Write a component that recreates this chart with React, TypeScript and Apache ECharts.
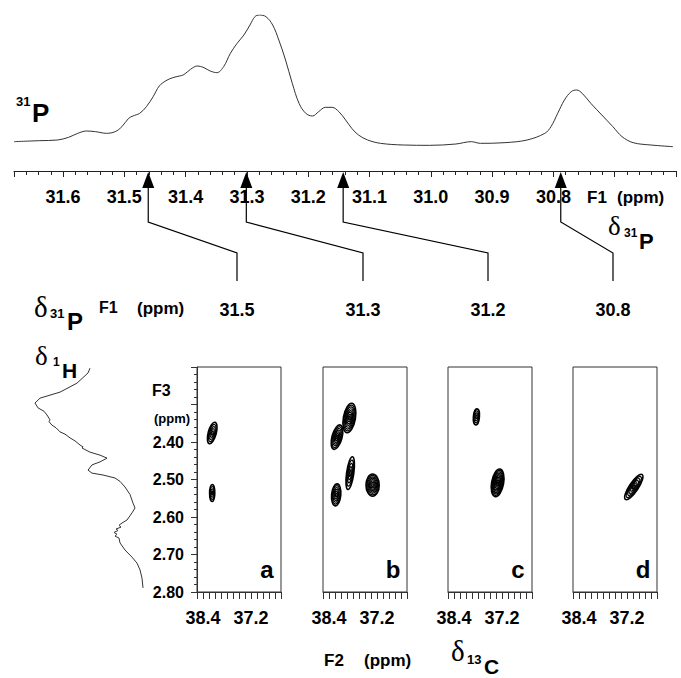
import React, { useEffect, useRef } from "react";
import * as echarts from "echarts";

// ---------- 31P 1D spectrum (F1 axis, ppm) ----------
const p31Ppm = [31.68, 31.638, 31.609, 31.591, 31.576, 31.562, 31.547, 31.529, 31.515, 31.504, 31.493, 31.486, 31.475, 31.464, 31.453, 31.443, 31.432, 31.421, 31.41, 31.403, 31.392, 31.381, 31.37, 31.36, 31.349, 31.338, 31.327, 31.316, 31.305, 31.295, 31.287, 31.28, 31.269, 31.258, 31.248, 31.237, 31.226, 31.215, 31.204, 31.193, 31.183, 31.172, 31.161, 31.15, 31.139, 31.129, 31.118, 31.103, 31.082, 31.045, 31.002, 30.959, 30.934, 30.919, 30.879, 30.843, 30.814, 30.804, 30.793, 30.782, 30.771, 30.762, 30.753, 30.739, 30.721, 30.703, 30.688, 30.67, 30.641, 30.605];
const p31Int = [20, 23, 25, 33, 45, 52, 50, 45, 50, 65, 90, 97, 105, 125, 155, 187, 203, 212, 217, 221, 237, 247, 242, 232, 227, 245, 285, 315, 340, 370, 395, 400, 395, 370, 325, 265, 195, 135, 105, 97, 110, 123, 123, 110, 85, 60, 40, 25, 15, 10, 9, 13, 20, 15, 17, 25, 45, 65, 105, 145, 170, 175, 165, 135, 100, 65, 35, 17, 10, 5];
const F1_MIN = 30.6;
const F1_MAX = 31.68;
const INT_MIN = -68;
const INT_MAX = 400;

// arrows marking the 31P shifts of the four slices
const arrowPpm = [31.461, 31.301, 31.143, 30.788];
const sliceF1Labels = ["31.5", "31.3", "31.2", "30.8"];
const panelLetters = ["a", "b", "c", "d"];

// ---------- 1H projection (F3, ppm) ----------
const h1Int = [70, 68, 57, 40, 20, 15, 18, 24, 27, 30, 29, 32, 36, 40, 45, 50, 55, 60, 63, 62, 70, 80, 87, 80, 72, 68, 72, 83, 95, 100, 105, 110, 113, 115, 112, 107, 102, 99, 101, 96, 98, 94, 97, 95, 99, 100, 105, 112, 117, 120, 122, 123];
const h1Ppm = [2.203, 2.216, 2.243, 2.267, 2.283, 2.296, 2.309, 2.318, 2.328, 2.341, 2.346, 2.355, 2.362, 2.373, 2.379, 2.389, 2.397, 2.408, 2.413, 2.416, 2.427, 2.435, 2.443, 2.453, 2.461, 2.475, 2.483, 2.488, 2.496, 2.505, 2.52, 2.54, 2.563, 2.576, 2.589, 2.608, 2.616, 2.622, 2.627, 2.632, 2.636, 2.641, 2.646, 2.651, 2.656, 2.669, 2.688, 2.707, 2.723, 2.741, 2.763, 2.789];
const F3_MIN = 2.2;
const F3_MAX = 2.8;

// ---------- 2D cross peaks: [F2 ppm, F3 ppm, width F2, width F3, tilt deg, contour levels] ----------
const peaksA = [
  [38.17, 2.376, 0.2, 0.059, 15, 5],
  [38.17, 2.536, 0.13, 0.045, 0, 4],
];
const peaksB = [
  [37.89, 2.336, 0.3, 0.08, 10, 8],
  [38.2, 2.387, 0.25, 0.067, 15, 7],
  [37.87, 2.483, 0.18, 0.088, 8, 5],
  [37.31, 2.515, 0.33, 0.059, 0, 8],
  [38.22, 2.541, 0.23, 0.059, 5, 6],
];
const peaksC = [
  [37.84, 2.333, 0.15, 0.043, 5, 4],
  [37.31, 2.509, 0.3, 0.075, 10, 10],
];
const peaksD = [[37.03, 2.52, 0.22, 0.08, 34, 6]];
const panelPeaks = [peaksA, peaksB, peaksC, peaksD];
const F2_MIN = 36.45;
const F2_MAX = 38.55;
const f2Labels = [38.4, 37.2];

// ---------- layout ----------
const panelLefts = [197, 323, 448, 573];
const PANEL_W = 84;
const PANEL_TOP = 367;
const PANEL_H = 225;

const SANS = '"Liberation Sans", Arial, Helvetica, sans-serif';
const SERIF = '"Liberation Serif", "DejaVu Serif", serif';

function txt(text: string, x: number, y: number, size: number, opts: any = {}) {
  const align = opts.align || "left";
  const family = opts.serif ? SERIF : SANS;
  const weight = opts.serif ? "normal" : "bold";
  return {
    type: "text",
    x,
    y,
    silent: true,
    style: {
      text,
      fill: "#000",
      font: `${weight} ${size}px ${family}`,
      align,
      verticalAlign: "middle",
      textAlign: align,
      textVerticalAlign: "middle",
    },
  };
}

export default function App() {
  const ref = useRef<HTMLDivElement>(null);

  useEffect(() => {
    if (!ref.current) return;
    const chart = echarts.init(ref.current, undefined, { renderer: "svg" });

    const axisColor = "#222";
    const grids: any[] = [
      { left: 14, top: 15, width: 662, height: 156, outerBoundsMode: "none" },
      { left: 20, top: PANEL_TOP, width: 130, height: PANEL_H, outerBoundsMode: "none" },
      ...panelLefts.map((l) => ({
        left: l,
        top: PANEL_TOP,
        width: PANEL_W,
        height: PANEL_H,
        show: true,
        borderColor: "#333",
        borderWidth: 1,
        backgroundColor: "transparent",
        outerBoundsMode: "none",
      })),
    ];

    const isTenth = (v: number) => Math.abs(v * 10 - Math.round(v * 10)) < 1e-6;

    const xAxes: any[] = [
      {
        type: "value",
        gridIndex: 0,
        min: F1_MIN,
        max: F1_MAX,
        inverse: true,
        interval: 0.1,
        axisLine: { show: true, onZero: false, lineStyle: { color: axisColor, width: 1 } },
        axisTick: { show: true, length: 6, lineStyle: { color: axisColor } },
        minorTick: { show: true, splitNumber: 5, length: 4, lineStyle: { color: axisColor } },
        splitLine: { show: false },
        minorSplitLine: { show: false },
        axisLabel: {
          margin: 17,
          color: "#000",
          fontSize: 18,
          fontWeight: "bold",
          fontFamily: SANS,
          formatter: (v: number) => (v >= 30.75 && v <= 31.65 && isTenth(v) ? v.toFixed(1) : ""),
        },
      },
      { type: "value", gridIndex: 1, min: 0, max: 130, show: false },
      ...panelLefts.map((_, i) => ({
        type: "value",
        gridIndex: i + 2,
        min: F2_MIN,
        max: F2_MAX,
        inverse: true,
        interval: 0.15,
        axisLine: { show: true, onZero: false, lineStyle: { color: "#333" } },
        axisTick: { show: true, length: 7, lineStyle: { color: "#333" } },
        splitLine: { show: false },
        axisLabel: {
          margin: 17,
          color: "#000",
          fontSize: 18,
          fontWeight: "bold",
          fontFamily: SANS,
          formatter: (v: number) =>
            f2Labels.some((t) => Math.abs(v - t) < 1e-6) ? v.toFixed(1) : "",
        },
      })),
    ];

    const yAxes: any[] = [
      { type: "value", gridIndex: 0, min: INT_MIN, max: INT_MAX, show: false },
      { type: "value", gridIndex: 1, min: F3_MIN, max: F3_MAX, inverse: true, show: false },
      {
        type: "value",
        gridIndex: 2,
        min: F3_MIN,
        max: F3_MAX,
        inverse: true,
        interval: 0.1,
        axisLine: { show: true, onZero: false, lineStyle: { color: "#333" } },
        axisTick: { show: true, length: 6, lineStyle: { color: "#333" } },
        minorTick: { show: true, splitNumber: 5, length: 3, lineStyle: { color: "#333" } },
        splitLine: { show: false },
        minorSplitLine: { show: false },
        axisLabel: {
          margin: 13,
          color: "#000",
          fontSize: 16,
          fontWeight: "bold",
          fontFamily: SANS,
          formatter: (v: number) => (v > 2.35 ? v.toFixed(2) : ""),
        },
      },
      ...[3, 4, 5].map((g) => ({
        type: "value",
        gridIndex: g,
        min: F3_MIN,
        max: F3_MAX,
        inverse: true,
        show: false,
      })),
    ];

    const peakSeries = panelPeaks.map((peaks, i) => ({
      type: "custom",
      xAxisIndex: i + 2,
      yAxisIndex: i + 2,
      clip: true,
      silent: true,
      data: peaks,
      renderItem: (params: any, api: any) => {
        const c = api.coord([api.value(0), api.value(1)]);
        const s = api.size([api.value(2), api.value(3)]);
        const rot = (-api.value(4) * Math.PI) / 180;
        const levels = api.value(5);
        const children: any[] = [];
        for (let k = levels; k >= 1; k--) {
          const f = k / levels;
          children.push({
            type: "ellipse",
            x: c[0],
            y: c[1],
            rotation: rot,
            shape: { cx: 0, cy: 0, rx: (Math.abs(s[0]) / 2) * f, ry: (Math.abs(s[1]) / 2) * f },
            style: { fill: "none", stroke: "#000", lineWidth: k === levels ? 1.6 : 1.2 },
          });
        }
        return { type: "group", children };
      },
    }));

    const arrowSeries = {
      type: "custom",
      xAxisIndex: 0,
      yAxisIndex: 0,
      clip: false,
      silent: true,
      data: arrowPpm.map((p) => [p, INT_MIN]),
      renderItem: (params: any, api: any) => {
        const i = params.dataIndex;
        const p = api.coord([api.value(0), api.value(1)]);
        const x = p[0];
        const y0 = p[1];
        const cx = panelLefts[i] + 40;
        return {
          type: "group",
          children: [
            {
              type: "polygon",
              shape: { points: [[x, y0 + 1], [x - 6, y0 + 17], [x + 6, y0 + 17]] },
              style: { fill: "#000" },
            },
            {
              type: "polyline",
              shape: { points: [[x, y0 + 16], [x, y0 + 51], [cx, y0 + 82], [cx, y0 + 110]] },
              style: { stroke: "#000", lineWidth: 1.2, fill: "none" },
            },
            {
              type: "text",
              x: cx,
              y: y0 + 139,
              style: {
                text: sliceF1Labels[i],
                fill: "#000",
                font: `bold 18px ${SANS}`,
                align: "center",
                verticalAlign: "middle",
                textAlign: "center",
                textVerticalAlign: "middle",
              },
            },
          ],
        };
      },
    };

    const graphics: any[] = [
      // 31P label
      txt("31", 16, 101, 13),
      txt("P", 32, 113, 26),
      // F1 axis name
      txt("F1", 587, 197, 17),
      txt("(ppm)", 617, 197, 17),
      // δ31P right
      txt("δ", 608, 226, 27, { serif: true }),
      txt("31", 624, 233, 12),
      txt("P", 639, 241, 22),
      // middle row
      txt("δ", 34, 307, 29, { serif: true }),
      txt("31", 50, 313, 13),
      txt("P", 67, 321, 24),
      txt("F1", 99, 307, 16),
      txt("(ppm)", 137, 308, 17),
      // δ1H
      txt("δ", 35, 356, 27, { serif: true }),
      txt("1", 53, 362, 12),
      txt("H", 62, 370, 21),
      // F3 name
      txt("F3", 152, 390, 16),
      txt("(ppm)", 154, 418, 13),
      // F2 name and δ13C
      txt("F2", 324, 660, 17),
      txt("(ppm)", 364, 660, 17),
      txt("δ", 451, 651, 29, { serif: true }),
      txt("13", 467, 659, 13),
      txt("C", 484, 666, 21),
      // panel letters
      ...panelLetters.map((l, i) => txt(l, panelLefts[i] + 70, 569, 24, { align: "center" })),
    ];

    chart.setOption({
      animation: false,
      backgroundColor: "#fff",
      grid: grids,
      xAxis: xAxes,
      yAxis: yAxes,
      graphic: { elements: graphics },
      series: [
        {
          type: "line",
          xAxisIndex: 0,
          yAxisIndex: 0,
          data: p31Ppm.map((p, i) => [p, p31Int[i]]),
          showSymbol: false,
          symbol: "none",
          smooth: 0.35,
          silent: true,
          lineStyle: { color: "#333", width: 1 },
        },
        arrowSeries,
        {
          type: "line",
          xAxisIndex: 1,
          yAxisIndex: 1,
          data: h1Int.map((v, i) => [v, h1Ppm[i]]),
          showSymbol: false,
          symbol: "none",
          silent: true,
          lineStyle: { color: "#333", width: 1 },
        },
        ...peakSeries,
      ],
    });

    return () => chart.dispose();
  }, []);

  return (
    <div
      ref={ref}
      style={{ position: "absolute", left: 0, top: 0, width: 681, height: 678, background: "#fff" }}
    />
  );
}
